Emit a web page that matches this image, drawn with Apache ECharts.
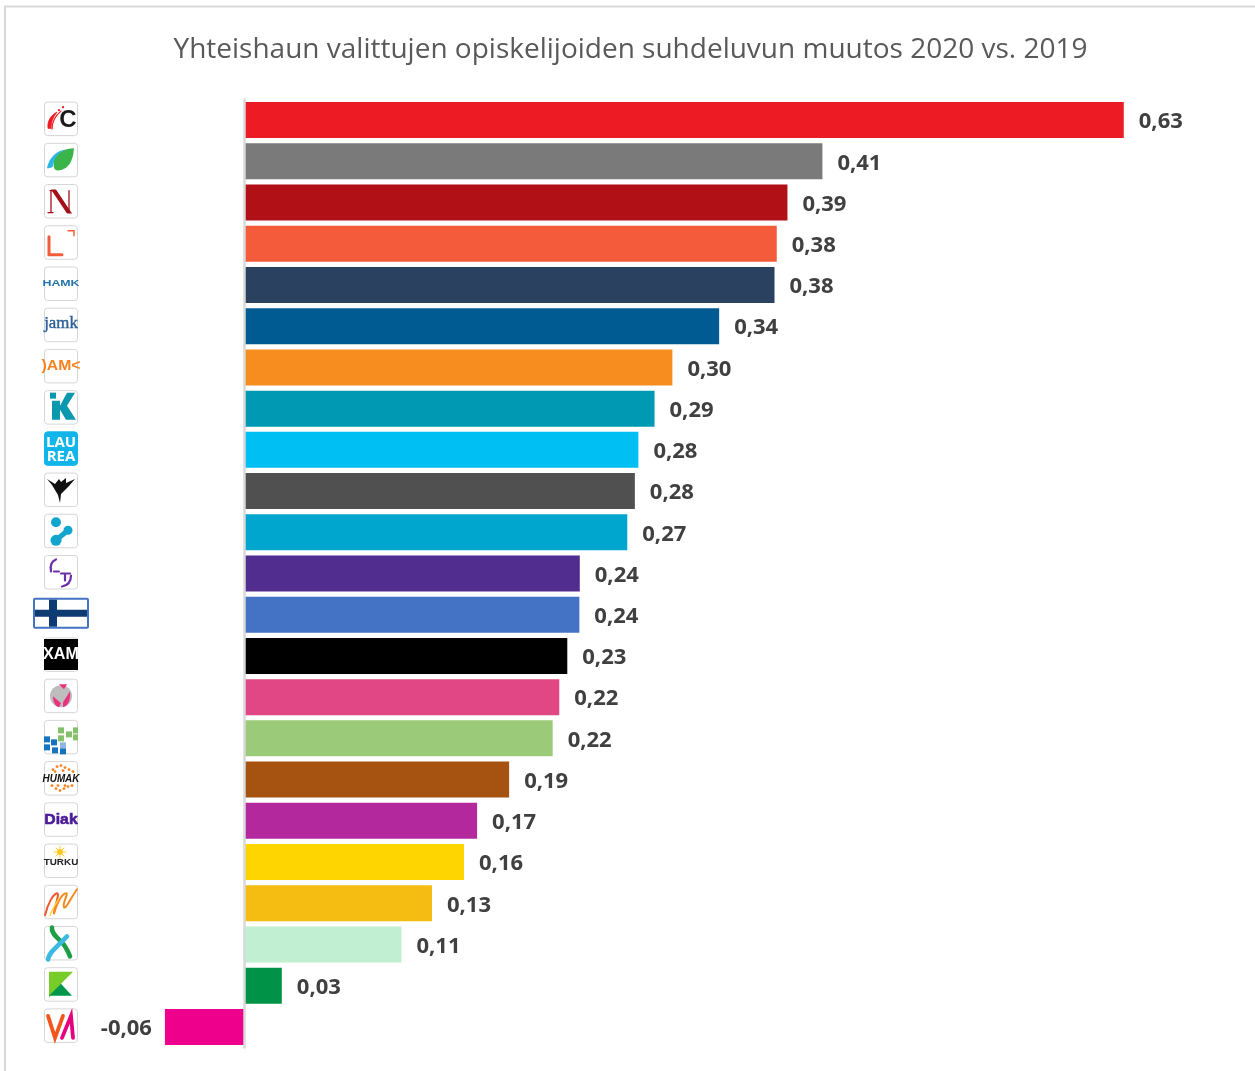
<!DOCTYPE html>
<html><head><meta charset="utf-8">
<style>html,body{margin:0;padding:0;background:#fff}#c{width:1255px;height:1071px}</style>
<script src="https://cdn.jsdelivr.net/npm/echarts@6/dist/echarts.min.js"></script>
</head><body><div id="c"></div>
<script>
const titleText = 'Yhteishaun valittujen opiskelijoiden suhdeluvun muutos 2020 vs. 2019';
const schools = ['Centria','Savonia','Novia','Lapin AMK','HAMK','JAMK','OAMK','Kajaani','Laurea','Karelia','Saimaa','SeAMK','Suomi','XAMK','Satakunta','Metropolia','Humak','Diak','Turku','Tampere','Haaga-Helia','Kaakkois','Vaasa'];
const values = [0.626,0.4115,0.3866,0.379,0.3774,0.338,0.3047,0.292,0.2805,0.278,0.2726,0.2388,0.2385,0.2299,0.2242,0.2195,0.1885,0.1657,0.1564,0.1336,0.1119,0.0267,-0.0565];
const barColors = ['#ED1C24','#7A7A7A','#B01016','#F35B3A','#2B4160','#005B92','#F78D1E','#0099B3','#00BFF3','#505050','#00A6CE','#522D90','#4472C4','#000000','#E24785','#9BCB78','#A65311','#B4289E','#FFD500','#F5BD12','#C1EFD1','#009347','#EF008C'];
const axisMin = -0.06, axisMax = 0.65;

function fmt(v){ return v.toFixed(2).replace('.', ','); }

// Logo artwork in a 34x34 local box
const P = (d, fill, stroke, w) => ({type:'path', shape:{pathData:d}, style:{fill: fill||'none', stroke: stroke||'none', lineWidth:w||0, lineCap:'round'}});
const T = (t, x, y, size, fill, weight, fam, extra, sx) => ({type:'text', scaleX:sx||1, originX:x, originY:y, style:Object.assign({text:t,x:x,y:y,fontSize:size,fill:fill,fontWeight:weight||'bold',fontFamily:fam||'Liberation Sans',align:'center',verticalAlign:'middle'},extra||{})});
const R = (x,y,w,h,fill) => ({type:'rect', shape:{x,y,width:w,height:h}, style:{fill}});
const Ci = (cx,cy,r,fill) => ({type:'circle', shape:{cx,cy,r}, style:{fill}});
const logos = [
 [P('M4 26 C3 19 7 13 13 10 C9 15 7 20 7 26 Z','#ED1C24','#ED1C24',0.8),P('M8 27 C8 20 12 13 17 9','none','#ED1C24',1.2),Ci(15,8,1.2,'#ED1C24'),Ci(19,5,1.2,'#ED1C24'),T('C',24,18,24,'#1a1a1a','bold')],
 [P('M30 5 C20 5 12 10 10 17 C9 22 10 26 12 27 C24 28 29 18 30 5 Z','#3BB54A'),P('M3 25 C5 14 13 7 23 6 C14 9 10 15 9 23 C7 25 5 25 3 25 Z','#2DB5E5')],
 [P('M6 6 L10 6 L25 27 L25 6 M4 28 L9 28 M7 28 L7 6','none','#A30F18',1.3),P('M7 5 L12 5 L28 29 L23 29 Z','#A30F18')],
 [P('M5 11 L5 29 L18 29','none','#F35B3A',3),P('M24 5 L30 5 L30 10','none','#F35B3A',1.4)],
 [T('HAMK',17,16,9.5,'#2474A8','bold','Liberation Sans',null,1.3)],
 [T('jamk',17,16,16,'#2B6098','normal','Liberation Serif',{stroke:'#2B6098',lineWidth:0.4},1.05)],
 [T(')AM<',17,16,15,'#F58220','bold','Liberation Sans',null,1.05)],
 [R(6,2,6,6,'#0A98AE'),P('M8 10 L16 10 L16 15 L23 2 L31 2 L23 15 L32 29 L22 29 L16 19 L16 29 L8 29 Z','#0A98AE')],
 [T('LAU',17,10.5,15,'#fff','bold','Open Sans'),T('REA',17,25,15,'#fff','bold','Open Sans')],
 [P('M3 6 L11 11 L15 6 L17 9 L22 5 L22 10 L31 6 L25 13 L21 17 L17 21 L16 30 L14 22 L11 17 L8 12 Z','#111')],
 [Ci(12,8,5,'#12A5CE'),Ci(12,26,5.5,'#12A5CE'),Ci(24,16,4.5,'#12A5CE'),P('M12 26 L24 16','none','#12A5CE',5)],
 [P('M12 4 C7 6 6 11 7 16','none','#6B2FA8',2.2),P('M10 16 L15 16','none','#6B2FA8',2),P('M17 18 L26 18 M21 18 L21 25','none','#6B2FA8',2.2),P('M27 20 C27 27 24 30 18 31','none','#6B2FA8',2.2)],
 [],
 [R(0,1,34,31,'#000'),T('XAM',17,16.5,17,'#fff','bold','Liberation Sans',null,0.95)],
 [Ci(17,17,11,'#BDBDBD'),P('M15 5 L23 5 L20 10 Z','#E8327E'),P('M9 17 L17 24 L15 28 C11 27 9 22 9 17 Z','#E8327E'),P('M26 12 L19 23 L19 28 C24 27 27 20 26 12 Z','#E8327E')],
 [R(14,7,6,6,'#86C06A'),R(22,11,6,6,'#86C06A'),R(29,7,5,6,'#86C06A'),R(29,14,5,6,'#86C06A'),R(14,15,6,6,'#86C06A'),R(0,16,6,6,'#1674BE'),R(7,19,6,6,'#1674BE'),R(0,24,6,6,'#1674BE'),R(8,27,6,6,'#1674BE'),R(16,22,6,6,'#8FB6E0'),R(16,28,6,6,'#1674BE')],
 [...[[9,8],[13,5],[17,4],[21,6],[25,8],[29,10],[11,10],[19,9],[8,24],[12,27],[16,29],[20,27],[24,25],[28,24],[14,24],[21,24]].map(p=>Ci(p[0],p[1],1.4,'#F58220')),T('HUMAK',17,17,11,'#111','bold','Liberation Sans',{fontStyle:'italic'},0.9)],
 [T('Diak',17,17,15,'#4A1A96','bold','Liberation Sans',{stroke:'#4A1A96',lineWidth:0.6},1.05)],
 [P('M16 2 L16 14 M10 8 L22 8 M12 4 L20 12 M20 4 L12 12','none','#FFD23F',1),Ci(16,8,3,'#FFC91F'),T('TURKU',17,18.5,9,'#222','bold','Liberation Sans',null,1.1)],
 [P('M1 30 C4 18 9 9 13 8 C16 8 11 20 10 28','none','#F2562B',2),P('M10 28 C13 18 18 8 22 8 C25 8 18 18 20 22 C22 24 26 14 33 4','none','#F58A1F',2),P('M6 30 C8 24 13 17 15 13','none','#FFD23F',1.4)],
 [P('M8 1 C7 6 12 10 17 15 C22 20 24 25 26 30','none','#1E9E45',4.6),P('M23 10 L11 22 C7 26 5 28 4 33','none','#3CB9E3',4.6)],
 [P('M5 4 L29 4 L17 16 L5 30 Z','#78CC2A'),P('M17 16 L28 28 L5 28 Z','#00974B')],
 [P('M4 7 L11 29 L19 7','none','#F2561D',3.8),P('M18 29 L27 7 L29 29','none','#E6007E',3.8)],
];
const filledBox = {8:'#12B5EA'};
const bareRow = {12:true};

const chart = echarts.init(document.getElementById('c'));
chart.setOption({
  backgroundColor:'#fff',
  animation:false,
  title:{text:titleText,left:625.5,top:31,textAlign:'center',textStyle:{fontFamily:'Open Sans',fontWeight:'normal',fontSize:28,color:'#595959'}},
  grid:{left:160,width:997.5,top:99.5,height:948},
  xAxis:{type:'value',min:axisMin,max:axisMax,show:false},
  yAxis:{type:'category',inverse:true,data:schools,z:5,
    axisLine:{show:true,onZero:true,lineStyle:{color:'#D9D9D9',width:2.5}},
    axisTick:{show:false},axisLabel:{show:false}},
  graphic:[
    {type:'rect',silent:true,shape:{x:5,y:6.5,width:1260,height:1080},style:{fill:'none',stroke:'#D9D9D9',lineWidth:2}}
  ],
  series:[
   {type:'bar',barWidth:36,data:values.map((v,i)=>({value:v,itemStyle:{color:barColors[i]},
      label:{position:v<0?'left':'right'}})),
    label:{show:true,distance:14,offset:[1,2],formatter:p=>fmt(p.value),fontFamily:'Open Sans',fontWeight:'bold',fontSize:22,color:'#404040'},
    z:1},
   {type:'custom',silent:true,z:3,coordinateSystem:'cartesian2d',encode:{x:0,y:1},
    data:schools.map((s,i)=>[axisMin,s]),
    renderItem:(params,api)=>{
      const i=params.dataIndex;
      const p=api.coord([axisMin,i]);
      const ox=p[0]-116, oy=p[1]-18;
      if(bareRow[i]){
        return {type:'group',x:p[0]-126,y:oy,children:[
          {type:'rect',shape:{x:0,y:2,width:54,height:29,r:1},style:{fill:'#fff',stroke:'#4472C4',lineWidth:2}},
          {type:'rect',shape:{x:15,y:3,width:8,height:27},style:{fill:'#0F3B73'}},
          {type:'rect',shape:{x:1,y:13,width:52,height:7},style:{fill:'#0F3B73'}}]};
      }
      return {type:'group',x:ox,y:oy,children:[
        {type:'rect',shape:{x:0.5,y:0,width:33,height:33.5,r:3},style:{fill:filledBox[i]||'#fff',stroke:filledBox[i]||'#D6D6D6',lineWidth:1}},
        ...logos[i]]};
    }}
  ]
});
</script></body></html>
